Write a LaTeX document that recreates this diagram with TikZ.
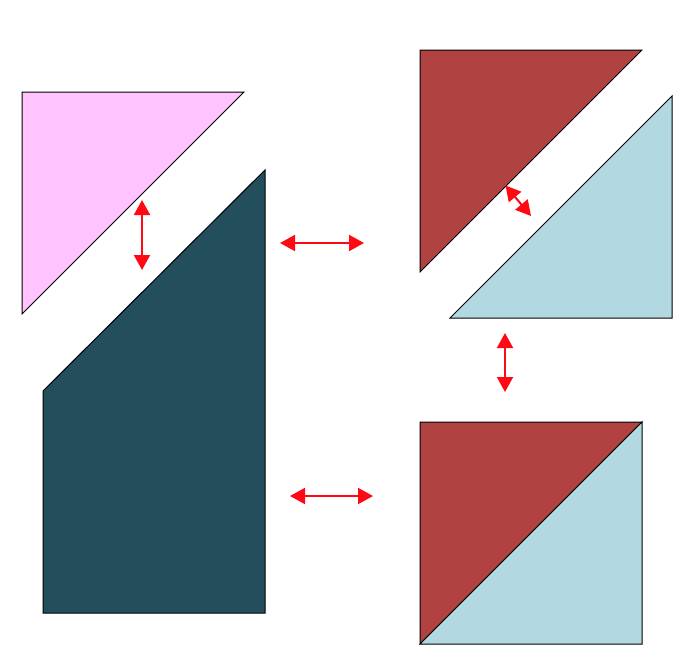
\documentclass[tikz,border=0pt]{standalone}
\usetikzlibrary{arrows.meta}
\definecolor{pinkf}{HTML}{FFC4FF}
\definecolor{tealf}{HTML}{234E5C}
\definecolor{redf}{HTML}{B04342}
\definecolor{bluef}{HTML}{B2D9E2}
\definecolor{arr}{HTML}{FF0A14}
\begin{document}
\begin{tikzpicture}[x=1pt,y=-1pt,
  piece/.style={draw=black,line width=1pt,line join=miter},
  dbl/.style={draw=arr,line width=2pt,{Triangle[length=15pt,width=16pt]}-{Triangle[length=15pt,width=16pt]}}]
\useasboundingbox (0,0) rectangle (690,646);
% left pieces
\filldraw[piece,fill=pinkf] (22,92) -- (244,92) -- (22,314) -- cycle;
\filldraw[piece,fill=tealf] (265,170) -- (265,613) -- (43,613) -- (43,391) -- cycle;
% top right pieces
\filldraw[piece,fill=redf] (420,50) -- (642,50) -- (420,272) -- cycle;
\filldraw[piece,fill=bluef] (672,96) -- (672,318) -- (450,318) -- cycle;
% bottom right square
\filldraw[piece,fill=redf] (420,422) -- (642,422) -- (420,644) -- cycle;
\filldraw[piece,fill=bluef] (642,422) -- (642,644) -- (420,644) -- cycle;
% arrow end points
\coordinate (a1) at (142,200); \coordinate (a2) at (142,270);
\coordinate (b1) at (280,243); \coordinate (b2) at (364,243);
\coordinate (c1) at (505.5,185.5); \coordinate (c2) at (531,216);
\coordinate (d1) at (505,333); \coordinate (d2) at (505,392);
\coordinate (e1) at (290,496); \coordinate (e2) at (373,496);
\draw[dbl] (a1) -- (a2);
\draw[dbl] (b1) -- (b2);
\draw[dbl] (c1) -- (c2);
\draw[dbl] (d1) -- (d2);
\draw[dbl] (e1) -- (e2);
\end{tikzpicture}
\end{document}
